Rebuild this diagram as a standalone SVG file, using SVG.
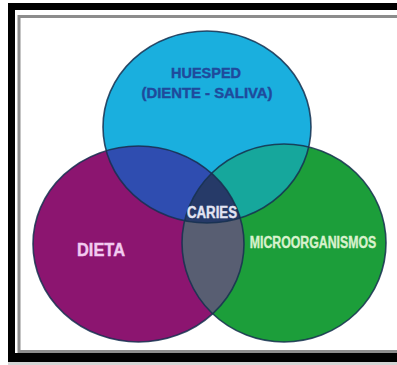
<svg xmlns="http://www.w3.org/2000/svg" width="397" height="365" viewBox="0 0 397 365">
<style>
.lbl{font-family:"Liberation Sans",Arial,sans-serif;font-weight:bold;text-anchor:middle;stroke-width:0.4}
.edge{fill:none;stroke:#163050;stroke-width:1.6;stroke-opacity:0.85}
</style>
<defs>
<clipPath id="cCyan"><ellipse cx="207" cy="127" rx="104" ry="96"/></clipPath>
<clipPath id="cMag"><ellipse cx="138.5" cy="244" rx="105.5" ry="98"/></clipPath>
</defs>
<rect x="0" y="0" width="397" height="365" fill="#ffffff"/>
<g id="frame">
<rect x="8" y="362" width="389" height="3" fill="#d4d4d4"/>
<rect x="19" y="16.5" width="390" height="335" fill="#ffffff" stroke="#8c8c8c" stroke-width="3"/>
<path d="M8,3 H397 V10 H15 V353 H397 V362 H8 Z" fill="#000000"/>
</g>
<g id="huesped">
<ellipse cx="207" cy="127" rx="104" ry="96" fill="#1aafde"/>
</g>
<g id="dieta">
<ellipse cx="138.5" cy="244" rx="105.5" ry="98" fill="#8c1570"/>
</g>
<g id="microorganismos">
<ellipse cx="284" cy="243" rx="102" ry="99" fill="#1c9e3a"/>
</g>
<g id="overlaps">
<ellipse cx="138.5" cy="244" rx="105.5" ry="98" fill="#2f4db0" clip-path="url(#cCyan)"/>
<ellipse cx="284" cy="243" rx="102" ry="99" fill="#16a79c" clip-path="url(#cCyan)"/>
<ellipse cx="284" cy="243" rx="102" ry="99" fill="#585e72" clip-path="url(#cMag)"/>
<g clip-path="url(#cCyan)">
<ellipse cx="284" cy="243" rx="102" ry="99" fill="#263a68" clip-path="url(#cMag)"/>
</g>
</g>
<g id="outlines">
<ellipse class="edge" cx="207" cy="127" rx="104" ry="96"/>
<ellipse class="edge" cx="138.5" cy="244" rx="105.5" ry="98"/>
<ellipse class="edge" cx="284" cy="243" rx="102" ry="99"/>
</g>
<g id="labels">
<text class="lbl" x="206" y="78" font-size="14" fill="#1f4a9c" stroke="#1f4a9c" textLength="70" lengthAdjust="spacingAndGlyphs">HUESPED</text>
<text class="lbl" x="207" y="98" font-size="14" fill="#1f4a9c" stroke="#1f4a9c" textLength="131" lengthAdjust="spacingAndGlyphs">(DIENTE - SALIVA)</text>
<text class="lbl" x="212" y="218" font-size="16" fill="#e2e4f2" stroke="#e2e4f2" textLength="50" lengthAdjust="spacingAndGlyphs">CARIES</text>
<text class="lbl" x="101" y="256" font-size="19" fill="#f2caf0" stroke="#f2caf0" textLength="48" lengthAdjust="spacingAndGlyphs">DIETA</text>
<text class="lbl" transform="translate(313,248) scale(0.77,1)" x="0" y="0" font-size="16" fill="#d8f2cc" stroke="#d8f2cc">MICROORGANISMOS</text>
</g>
</svg>
